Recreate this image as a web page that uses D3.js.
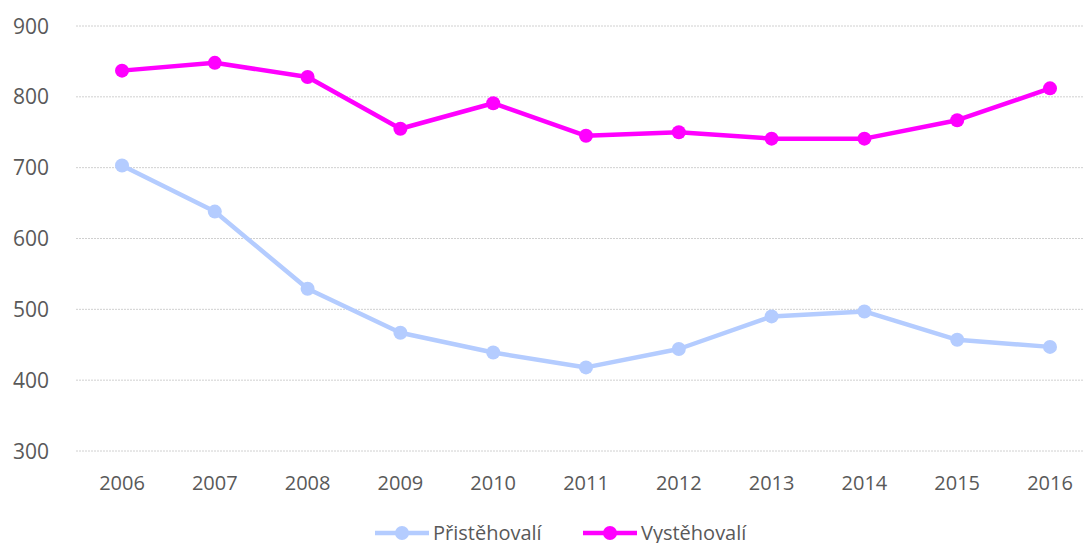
<!DOCTYPE html>
<html lang="cs">
<head>
    <meta charset="UTF-8">
    <title>Přistěhovalí a vystěhovalí</title>
    <script src="https://d3js.org/d3.v7.min.js"></script>
    <style>
        body {margin: 0; background: #fff;}
        text {font-family: "Open Sans", "Noto Sans", sans-serif; fill: #595959;}
        .grid line {stroke: #d0d0d0; stroke-dasharray: 2,1;}
    </style>
</head>
<body>
<script>
    const width  = 1083;
    const height = 543;

    const years = ["2006","2007","2008","2009","2010","2011","2012","2013","2014","2015","2016"];
    const pristehovali = [703, 638, 529, 467, 439, 418, 444, 490, 497, 457, 447];
    const vystehovali  = [837, 848, 828, 755, 791, 745, 750, 741, 741, 767, 812];
    const yTicks = [300, 400, 500, 600, 700, 800, 900];

    const series = [
        {name: "Přistěhovalí", values: pristehovali, color: "#b4ccff"},
        {name: "Vystěhovalí",  values: vystehovali,  color: "#ff00ff"}
    ];

    const scaleX = d3.scalePoint().domain(years).range([122, 1050]);
    const scaleY = d3.scaleLinear().domain([300, 900]).range([451, 26]);

    const svg = d3.select("body").append("svg").attr("width", width).attr("height", height);

    // gridlines
    svg.append("g").attr("class", "grid")
        .selectAll("line").data(yTicks).join("line")
        .attr("x1", 76).attr("x2", 1083)
        .attr("y1", d => scaleY(d)).attr("y2", d => scaleY(d));

    // y labels
    svg.append("g").selectAll("text").data(yTicks).join("text")
        .attr("x", 49).attr("y", d => scaleY(d) + 7.5)
        .attr("text-anchor", "end")
        .style("font-size", "21px")
        .text(d => d);

    // x labels
    svg.append("g").selectAll("text").data(years).join("text")
        .attr("x", d => scaleX(d)).attr("y", 490)
        .attr("text-anchor", "middle")
        .style("font-size", "20px")
        .text(d => d);

    const line = d3.line()
        .x((d, i) => scaleX(years[i]))
        .y(d => scaleY(d));

    series.forEach(s => {
        svg.append("path")
            .attr("d", line(s.values))
            .attr("fill", "none")
            .attr("stroke", s.color)
            .attr("stroke-width", 4.5)
            .attr("stroke-linejoin", "round");
        svg.append("g").selectAll("circle").data(s.values).join("circle")
            .attr("cx", (d, i) => scaleX(years[i]))
            .attr("cy", d => scaleY(d))
            .attr("r", 7)
            .attr("fill", s.color);
    });

    // legend
    const legendX = [375, 583];
    const legend = svg.append("g").selectAll("g").data(series).join("g")
        .attr("transform", (d, i) => "translate(" + [legendX[i], 533] + ")");
    legend.append("line")
        .attr("x1", 0).attr("x2", 54)
        .attr("stroke", d => d.color).attr("stroke-width", 4.5);
    legend.append("circle")
        .attr("cx", 27).attr("r", 7).attr("fill", d => d.color);
    legend.append("text")
        .attr("x", 58).attr("y", 7)
        .style("font-size", "20px")
        .text(d => d.name);
</script>
</body>
</html>
